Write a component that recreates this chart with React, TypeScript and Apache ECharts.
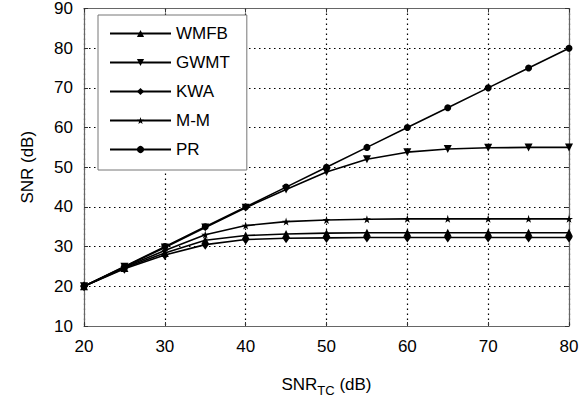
import React, { useEffect, useRef } from "react";
import * as echarts from "echarts";

const snrTC = [20, 25, 30, 35, 40, 45, 50, 55, 60, 65, 70, 75, 80];
const wmfb = [20, 24.6, 28.4, 31.6, 32.8, 33.2, 33.4, 33.5, 33.5, 33.5, 33.5, 33.5, 33.5];
const gwmt = [20, 24.9, 29.8, 34.8, 39.8, 44.4, 48.8, 52.0, 53.8, 54.6, 54.9, 55.0, 55.0];
const kwa = [20, 24.4, 27.9, 30.5, 31.8, 32.1, 32.2, 32.3, 32.3, 32.3, 32.3, 32.3, 32.3];
const mm = [20, 24.8, 29.0, 33.0, 35.3, 36.3, 36.7, 36.9, 37.0, 37.0, 37.0, 37.0, 37.0];
const pr = [20, 25, 30, 35, 40, 45, 50, 55, 60, 65, 70, 75, 80];

const seriesNames = ["WMFB", "GWMT", "KWA", "M-M", "PR"];
const xTicks = [20, 30, 40, 50, 60, 70, 80];
const yTicks = [10, 20, 30, 40, 50, 60, 70, 80, 90];

const STAR =
  "path://M50,0 L61,35 L98,35 L68,57 L79,91 L50,70 L21,91 L32,57 L2,35 L39,35 Z";

export default function App() {
  const ref = useRef<HTMLDivElement>(null);
  useEffect(() => {
    if (!ref.current) return;
    const chart = echarts.init(ref.current, undefined, { renderer: "svg" });
    const font = "Liberation Sans, Arial, sans-serif";
    const datasets = [wmfb, gwmt, kwa, mm, pr];
    const symbols: any[] = [
      { symbol: "triangle", size: 8, rotate: 0 },
      { symbol: "triangle", size: 8, rotate: 180 },
      { symbol: "diamond", size: [7, 10], rotate: 0 },
      { symbol: STAR, size: 8, rotate: 0 },
      { symbol: "circle", size: 7, rotate: 0 },
    ];
    const series = datasets.map((d, i) => ({
      name: seriesNames[i],
      type: "line",
      data: snrTC.map((x, j) => [x, d[j]]),
      symbol: symbols[i].symbol,
      symbolSize: symbols[i].size,
      symbolRotate: symbols[i].rotate,
      showAllSymbol: true,
      lineStyle: { color: "#000", width: 1.6 },
      itemStyle: { color: "#000", borderColor: "#000", borderWidth: 0 },
      z: 3,
    }));
    const axisLine = { show: true, lineStyle: { color: "#666", width: 1.2 } };
    const tick = { show: true, inside: true, length: 4, lineStyle: { color: "#333" } };
    const splitLine = {
      show: true,
      lineStyle: { color: "#000", type: [1.5, 3.5] as any, width: 1.2 },
    };
    chart.setOption({
      animation: false,
      backgroundColor: "#fff",
      grid: { left: 84, right: 18, top: 8, bottom: 68, containLabel: false },
      legend: {
        data: seriesNames,
        orient: "vertical",
        left: 98,
        top: 15,
        itemWidth: 61,
        itemHeight: 9,
        itemGap: 12,
        padding: [10, 17, 12, 11],
        backgroundColor: "#fff",
        borderColor: "#777",
        borderWidth: 1,
        borderRadius: 0,
        textStyle: { fontFamily: font, fontSize: 17, color: "#000", padding: [0, 0, 0, 0] },
        z: 10,
      },
      xAxis: [
        {
          type: "value",
          min: 20,
          max: 80,
          interval: 10,
          axisLine,
          axisTick: tick,
          axisLabel: { fontFamily: font, fontSize: 17, color: "#000", margin: 12 },
          splitLine,
          name: "{a|SNR}{b|TC}{a| (dB)}",
          nameLocation: "middle",
          nameGap: 46,
          nameTextStyle: {
            rich: {
              a: { fontFamily: font, fontSize: 17, color: "#000" },
              b: { fontFamily: font, fontSize: 13, color: "#000", padding: [12, 0, 0, 0] },
            },
          },
        },
        {
          type: "value",
          position: "top",
          min: 20,
          max: 80,
          interval: 10,
          axisLine,
          axisTick: tick,
          axisLabel: { show: false },
          splitLine: { show: false },
        },
      ],
      yAxis: [
        {
          type: "value",
          min: 10,
          max: 90,
          interval: 10,
          axisLine,
          axisTick: tick,
          axisLabel: { fontFamily: font, fontSize: 17, color: "#000", margin: 11 },
          splitLine,
          name: "SNR (dB)",
          nameLocation: "middle",
          nameGap: 48,
          nameTextStyle: { fontFamily: font, fontSize: 17, color: "#000" },
        },
        {
          type: "value",
          position: "right",
          min: 10,
          max: 90,
          interval: 10,
          axisLine,
          axisTick: tick,
          axisLabel: { show: false },
          splitLine: { show: false },
        },
      ],
      series,
    });
    return () => chart.dispose();
  }, []);
  return <div ref={ref} style={{ width: 587, height: 402, position: "absolute", left: 0, top: 0 }} />;
}
